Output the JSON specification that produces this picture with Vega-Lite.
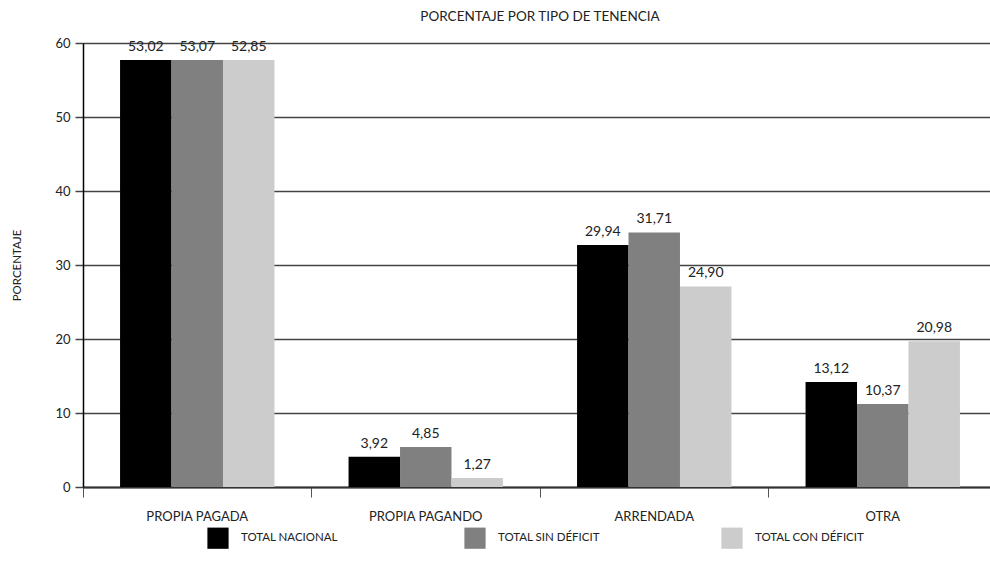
{
  "$schema": "https://vega.github.io/schema/vega-lite/v6.json",
  "width": 914,
  "height": 444,
  "autosize": "none",
  "padding": {"left": 83, "top": 43, "right": 0, "bottom": 88},
  "background": "white",
  "config": {"font": "Lato", "view": {"stroke": null}},
  "title": {"text": "PORCENTAJE POR TIPO DE TENENCIA", "fontSize": 13.5, "fontWeight": "normal", "color": "#222222", "offset": 14, "anchor": "middle"},
  "data": {"values": [
    {"cat": "PROPIA PAGADA", "serie": "TOTAL NACIONAL", "valor": 57.7, "etiqueta": "53,02"},
    {"cat": "PROPIA PAGADA", "serie": "TOTAL SIN DÉFICIT", "valor": 57.7, "etiqueta": "53,07"},
    {"cat": "PROPIA PAGADA", "serie": "TOTAL CON DÉFICIT", "valor": 57.7, "etiqueta": "52,85"},
    {"cat": "PROPIA PAGANDO", "serie": "TOTAL NACIONAL", "valor": 4.1, "etiqueta": "3,92"},
    {"cat": "PROPIA PAGANDO", "serie": "TOTAL SIN DÉFICIT", "valor": 5.4, "etiqueta": "4,85"},
    {"cat": "PROPIA PAGANDO", "serie": "TOTAL CON DÉFICIT", "valor": 1.2, "etiqueta": "1,27"},
    {"cat": "ARRENDADA", "serie": "TOTAL NACIONAL", "valor": 32.7, "etiqueta": "29,94"},
    {"cat": "ARRENDADA", "serie": "TOTAL SIN DÉFICIT", "valor": 34.4, "etiqueta": "31,71"},
    {"cat": "ARRENDADA", "serie": "TOTAL CON DÉFICIT", "valor": 27.1, "etiqueta": "24,90"},
    {"cat": "OTRA", "serie": "TOTAL NACIONAL", "valor": 14.2, "etiqueta": "13,12"},
    {"cat": "OTRA", "serie": "TOTAL SIN DÉFICIT", "valor": 11.2, "etiqueta": "10,37"},
    {"cat": "OTRA", "serie": "TOTAL CON DÉFICIT", "valor": 19.7, "etiqueta": "20,98"}
  ]},
  "encoding": {
    "x": {
      "field": "cat", "type": "nominal",
      "sort": ["PROPIA PAGADA", "PROPIA PAGANDO", "ARRENDADA", "OTRA"],
      "scale": {"paddingInner": 0, "paddingOuter": 0},
      "axis": {
        "title": null, "labelAngle": 0, "bandPosition": 0,
        "domainColor": "#333333", "domainWidth": 2,
        "tickColor": "#555555", "tickSize": 10, "tickWidth": 1,
        "labelFontSize": 13, "labelColor": "#222222", "labelPadding": 13
      }
    },
    "xOffset": {
      "field": "serie", "type": "nominal",
      "sort": ["TOTAL NACIONAL", "TOTAL SIN DÉFICIT", "TOTAL CON DÉFICIT"],
      "scale": {"paddingInner": 0, "paddingOuter": 0.72}
    }
  },
  "layer": [
    {
      "mark": {"type": "bar"},
      "encoding": {
        "y": {
          "field": "valor", "type": "quantitative",
          "scale": {"domain": [0, 60], "nice": false},
          "axis": {
            "values": [0, 10, 20, 30, 40, 50, 60],
            "title": "PORCENTAJE", "titleFontSize": 11.5, "titleFontWeight": "normal", "titleColor": "#222222",
            "titleX": -66, "titleY": 222, "titleAngle": 270, "titleAlign": "center", "titleBaseline": "middle",
            "domainColor": "#000000", "domainWidth": 1.5,
            "tickColor": "#444444", "tickSize": 8, "tickWidth": 1.5,
            "gridColor": "#444444", "gridWidth": 1.5,
            "labelFontSize": 13, "labelColor": "#222222", "labelPadding": 5
          }
        },
        "color": {
          "field": "serie", "type": "nominal",
          "sort": ["TOTAL NACIONAL", "TOTAL SIN DÉFICIT", "TOTAL CON DÉFICIT"],
          "scale": {"domain": ["TOTAL NACIONAL", "TOTAL SIN DÉFICIT", "TOTAL CON DÉFICIT"], "range": ["#000000", "#808080", "#cccccc"]},
          "legend": {
            "title": null, "orient": "none", "direction": "horizontal",
            "legendX": 124, "legendY": 484, "padding": 0,
            "symbolType": "square", "symbolSize": 450, "symbolStrokeWidth": 0, "symbolOpacity": 1,
            "labelFontSize": 11.5, "labelColor": "#222222", "labelOffset": 12,
            "gridAlign": "all", "columnPadding": 113
          }
        }
      }
    },
    {
      "mark": {"type": "text", "baseline": "bottom", "dy": -6, "fontSize": 14, "color": "#222222"},
      "encoding": {
        "y": {"field": "valor", "type": "quantitative"},
        "text": {"field": "etiqueta"}
      }
    }
  ]
}
